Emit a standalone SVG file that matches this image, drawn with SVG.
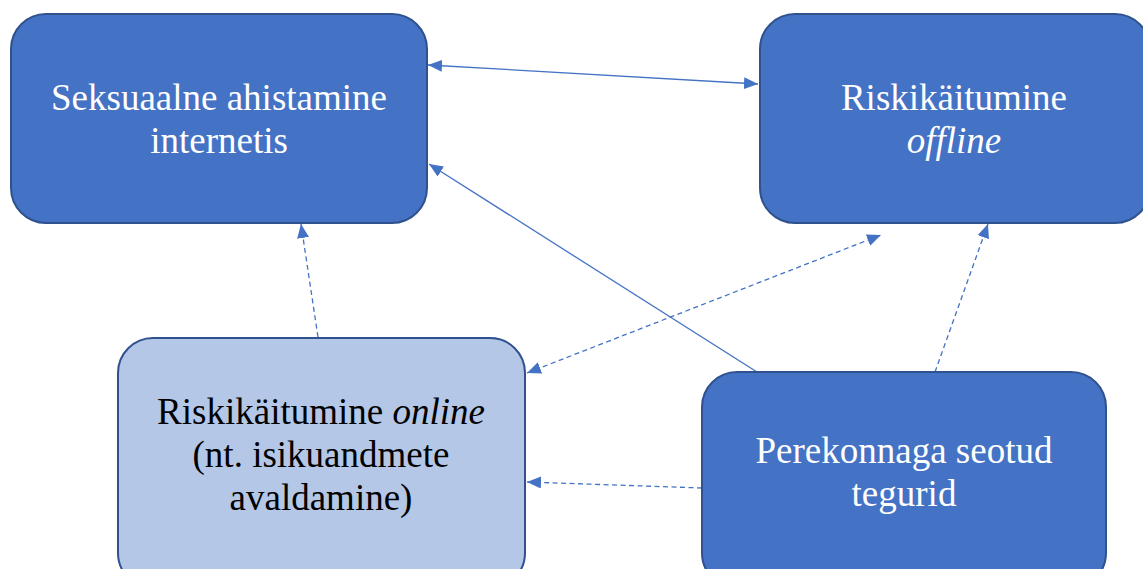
<svg xmlns="http://www.w3.org/2000/svg" width="1143" height="569" viewBox="0 0 1143 569">
<style>
.box{fill:#4472C4;stroke:#2F528F;stroke-width:2}
.light{fill:#B4C7E7;stroke:#2F528F;stroke-width:2}
.t{font-family:"Liberation Serif","Times New Roman",serif;font-size:37px;text-anchor:middle;fill:#FFFFFF}
.dk{fill:#000000}
.c{stroke:#4472C4;stroke-width:1.3;fill:none}
.d{stroke-dasharray:5,3.5}
</style>
<defs>
<marker id="ah" viewBox="0 0 14 12" refX="14" refY="6" markerWidth="14" markerHeight="12" markerUnits="userSpaceOnUse" orient="auto-start-reverse">
<path d="M0,0 L14,6 L0,12 z" fill="#4472C4"/>
</marker>
</defs>
<rect width="1143" height="569" fill="#FFFFFF"/>
<g id="connectors">
<line class="c" x1="428" y1="65" x2="758" y2="84" marker-start="url(#ah)" marker-end="url(#ah)"/>
<line class="c" x1="757" y1="372" x2="429" y2="164" marker-end="url(#ah)"/>
<line class="c d" x1="318" y1="337" x2="301" y2="224" marker-end="url(#ah)"/>
<line class="c d" x1="527" y1="373" x2="881" y2="235" marker-start="url(#ah)" marker-end="url(#ah)"/>
<line class="c d" x1="935" y1="372" x2="988" y2="224" marker-end="url(#ah)"/>
<line class="c d" x1="702" y1="488" x2="527" y2="482" marker-end="url(#ah)"/>
</g>
<g id="node-seksuaalne">
<rect class="box" x="11" y="14" width="416" height="209" rx="35"/>
<text class="t" x="219" y="110">Seksuaalne ahistamine</text>
<text class="t" x="219" y="153">internetis</text>
</g>
<g id="node-offline">
<rect class="box" x="760" y="14" width="390" height="209" rx="35"/>
<text class="t" x="954" y="110">Riskikäitumine</text>
<text class="t" x="954" y="153" font-style="italic">offline</text>
</g>
<g id="node-online">
<rect class="light" x="118" y="338" width="407" height="250" rx="35"/>
<text class="t dk" x="321" y="424">Riskikäitumine <tspan font-style="italic">online</tspan></text>
<text class="t dk" x="321" y="467">(nt. isikuandmete</text>
<text class="t dk" x="321" y="510">avaldamine)</text>
</g>
<g id="node-perekond">
<rect class="box" x="702" y="372" width="404" height="216" rx="35"/>
<text class="t" x="904" y="463">Perekonnaga seotud</text>
<text class="t" x="904" y="506">tegurid</text>
</g>
</svg>
